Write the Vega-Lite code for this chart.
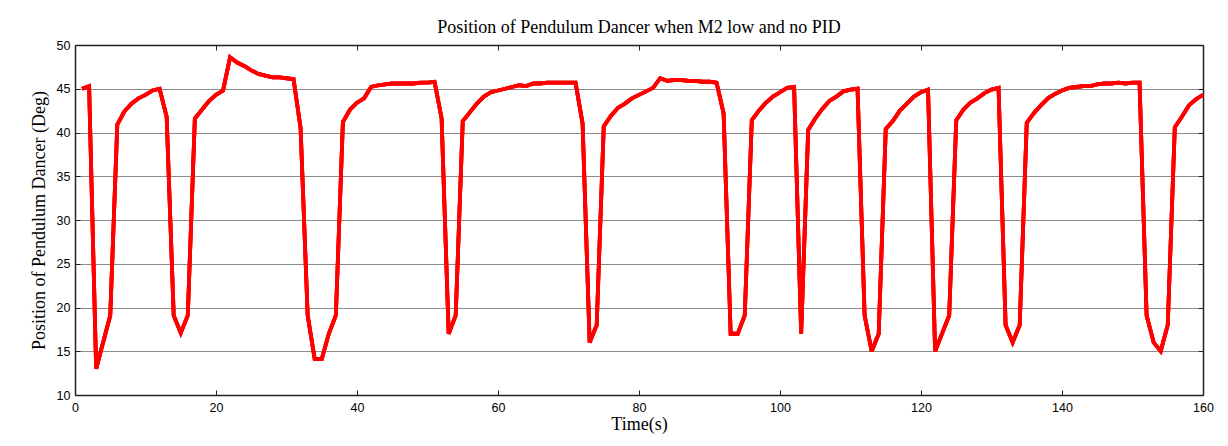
{
  "$schema": "https://vega.github.io/schema/vega-lite/v6.json",
  "width": 1128,
  "height": 350,
  "autosize": "none",
  "padding": {"left": 75, "top": 45, "right": 25, "bottom": 51},
  "background": "white",
  "title": {
    "text": "Position of Pendulum Dancer when M2 low and no PID",
    "font": "Liberation Serif",
    "fontSize": 18,
    "fontWeight": "normal",
    "color": "black",
    "anchor": "middle",
    "offset": 2
  },
  "data": {
    "values": [
      {"t": 1, "v": 45.0}, {"t": 2, "v": 45.3}, {"t": 3, "v": 13.0}, {"t": 5, "v": 19.1},
      {"t": 6, "v": 40.9}, {"t": 7, "v": 42.4}, {"t": 8, "v": 43.3}, {"t": 9, "v": 43.9},
      {"t": 10, "v": 44.3}, {"t": 11, "v": 44.8}, {"t": 12, "v": 45.0}, {"t": 13, "v": 41.8},
      {"t": 14, "v": 19.1}, {"t": 15, "v": 17.1}, {"t": 16, "v": 19.1}, {"t": 17, "v": 41.6},
      {"t": 18, "v": 42.6}, {"t": 19, "v": 43.6}, {"t": 20, "v": 44.3}, {"t": 21, "v": 44.8},
      {"t": 22, "v": 48.6}, {"t": 23, "v": 48.0}, {"t": 24, "v": 47.6}, {"t": 25, "v": 47.1},
      {"t": 26, "v": 46.7}, {"t": 27, "v": 46.5}, {"t": 28, "v": 46.3}, {"t": 29, "v": 46.3},
      {"t": 30, "v": 46.2}, {"t": 31, "v": 46.1}, {"t": 32, "v": 40.5}, {"t": 33, "v": 19.1},
      {"t": 34, "v": 14.1}, {"t": 35, "v": 14.1}, {"t": 36, "v": 17.0}, {"t": 37, "v": 19.1},
      {"t": 38, "v": 41.2}, {"t": 39, "v": 42.6}, {"t": 40, "v": 43.4}, {"t": 41, "v": 43.9},
      {"t": 42, "v": 45.2}, {"t": 43, "v": 45.4}, {"t": 44, "v": 45.5}, {"t": 45, "v": 45.6},
      {"t": 46, "v": 45.6}, {"t": 47, "v": 45.6}, {"t": 48, "v": 45.6}, {"t": 49, "v": 45.7},
      {"t": 50, "v": 45.7}, {"t": 51, "v": 45.8}, {"t": 52, "v": 41.6}, {"t": 53, "v": 17.0},
      {"t": 54, "v": 19.1}, {"t": 55, "v": 41.3}, {"t": 56, "v": 42.3}, {"t": 57, "v": 43.3},
      {"t": 58, "v": 44.1}, {"t": 59, "v": 44.6}, {"t": 60, "v": 44.8}, {"t": 61, "v": 45.0},
      {"t": 62, "v": 45.2}, {"t": 63, "v": 45.4}, {"t": 64, "v": 45.3}, {"t": 65, "v": 45.6},
      {"t": 66, "v": 45.6}, {"t": 67, "v": 45.7}, {"t": 68, "v": 45.7}, {"t": 69, "v": 45.7},
      {"t": 70, "v": 45.7}, {"t": 71, "v": 45.7}, {"t": 72, "v": 41.0}, {"t": 73, "v": 16.0},
      {"t": 74, "v": 18.0}, {"t": 75, "v": 40.7}, {"t": 76, "v": 41.9}, {"t": 77, "v": 42.8},
      {"t": 78, "v": 43.3}, {"t": 79, "v": 43.9}, {"t": 80, "v": 44.3}, {"t": 81, "v": 44.7},
      {"t": 82, "v": 45.1}, {"t": 83, "v": 46.2}, {"t": 84, "v": 45.9}, {"t": 85, "v": 46.0},
      {"t": 86, "v": 46.0}, {"t": 87, "v": 45.9}, {"t": 88, "v": 45.9}, {"t": 89, "v": 45.8},
      {"t": 90, "v": 45.8}, {"t": 91, "v": 45.7}, {"t": 92, "v": 42.2}, {"t": 93, "v": 17.0},
      {"t": 94, "v": 17.0}, {"t": 95, "v": 19.1}, {"t": 96, "v": 41.4}, {"t": 97, "v": 42.5},
      {"t": 98, "v": 43.4}, {"t": 99, "v": 44.1}, {"t": 100, "v": 44.6}, {"t": 101, "v": 45.1},
      {"t": 102, "v": 45.2}, {"t": 103, "v": 17.0}, {"t": 104, "v": 40.3}, {"t": 105, "v": 41.6},
      {"t": 106, "v": 42.7}, {"t": 107, "v": 43.6}, {"t": 108, "v": 44.1}, {"t": 109, "v": 44.7},
      {"t": 110, "v": 44.9}, {"t": 111, "v": 45.0}, {"t": 112, "v": 19.1}, {"t": 113, "v": 15.0},
      {"t": 114, "v": 17.0}, {"t": 115, "v": 40.4}, {"t": 116, "v": 41.3}, {"t": 117, "v": 42.5},
      {"t": 118, "v": 43.3}, {"t": 119, "v": 44.1}, {"t": 120, "v": 44.6}, {"t": 121, "v": 44.9},
      {"t": 122, "v": 15.0}, {"t": 124, "v": 19.1}, {"t": 125, "v": 41.4}, {"t": 126, "v": 42.6},
      {"t": 127, "v": 43.4}, {"t": 128, "v": 43.9}, {"t": 129, "v": 44.5}, {"t": 130, "v": 44.9},
      {"t": 131, "v": 45.1}, {"t": 132, "v": 18.0}, {"t": 133, "v": 16.0}, {"t": 134, "v": 18.0},
      {"t": 135, "v": 41.1}, {"t": 136, "v": 42.2}, {"t": 137, "v": 43.1}, {"t": 138, "v": 43.9},
      {"t": 139, "v": 44.4}, {"t": 140, "v": 44.8}, {"t": 141, "v": 45.1}, {"t": 142, "v": 45.2},
      {"t": 143, "v": 45.3}, {"t": 144, "v": 45.3}, {"t": 145, "v": 45.5}, {"t": 146, "v": 45.6},
      {"t": 147, "v": 45.6}, {"t": 148, "v": 45.7}, {"t": 149, "v": 45.6}, {"t": 150, "v": 45.7},
      {"t": 151, "v": 45.7}, {"t": 152, "v": 19.1}, {"t": 153, "v": 16.0}, {"t": 154, "v": 15.0},
      {"t": 155, "v": 18.0}, {"t": 156, "v": 40.6}, {"t": 157, "v": 41.8}, {"t": 158, "v": 43.1},
      {"t": 159, "v": 43.8}, {"t": 160, "v": 44.3}
    ]
  },
  "layer": [
    {
      "mark": {"type": "line", "color": "#ff0000", "strokeWidth": 3.8, "strokeJoin": "miter", "strokeMiterLimit": 3},
      "encoding": {
        "x": {
          "field": "t", "type": "quantitative",
          "scale": {"domain": [0, 160], "nice": false, "zero": false},
          "axis": {
            "orient": "bottom", "title": "Time(s)", "values": [0, 20, 40, 60, 80, 100, 120, 140, 160],
            "grid": false, "ticks": false, "labelPadding": 6, "titlePadding": 2, "labelFlush": false
          }
        },
        "y": {
          "field": "v", "type": "quantitative",
          "scale": {"domain": [10, 50], "nice": false, "zero": false},
          "axis": {
            "orient": "left", "title": "Position of Pendulum Dancer (Deg)", "values": [10, 15, 20, 25, 30, 35, 40, 45, 50],
            "grid": true, "ticks": false, "labelPadding": 5, "titlePadding": 8, "labelFlush": false
          }
        }
      }
    },
    {
      "mark": {"type": "line", "color": "#ff0000", "strokeWidth": 3.8, "strokeJoin": "miter", "strokeMiterLimit": 3},
      "encoding": {
        "x": {
          "field": "t", "type": "quantitative",
          "scale": {"domain": [0, 160], "nice": false, "zero": false},
          "axis": {
            "orient": "top", "title": null, "values": [0, 20, 40, 60, 80, 100, 120, 140, 160],
            "grid": false, "labels": false, "ticks": true, "tickSize": -5, "domain": true
          }
        },
        "y": {
          "field": "v", "type": "quantitative",
          "scale": {"domain": [10, 50], "nice": false, "zero": false},
          "axis": {
            "orient": "right", "title": null, "values": [10, 15, 20, 25, 30, 35, 40, 45, 50],
            "grid": false, "labels": false, "ticks": true, "tickSize": -5, "domain": true
          }
        }
      }
    },
    {
      "mark": {"type": "line", "color": "#ff0000", "strokeWidth": 3.8, "strokeJoin": "miter", "strokeMiterLimit": 3},
      "encoding": {
        "x": {
          "field": "t", "type": "quantitative",
          "scale": {"domain": [0, 160], "nice": false, "zero": false},
          "axis": {
            "orient": "bottom", "title": null, "values": [0, 20, 40, 60, 80, 100, 120, 140, 160],
            "grid": false, "labels": false, "ticks": true, "tickSize": -5, "domain": false
          }
        },
        "y": {
          "field": "v", "type": "quantitative",
          "scale": {"domain": [10, 50], "nice": false, "zero": false},
          "axis": {
            "orient": "left", "title": null, "values": [10, 15, 20, 25, 30, 35, 40, 45, 50],
            "grid": false, "labels": false, "ticks": true, "tickSize": -5, "domain": false
          }
        }
      }
    }
  ],
  "resolve": {"axis": {"x": "independent", "y": "independent"}},
  "config": {
    "view": {"stroke": "#222222", "strokeWidth": 1},
    "axis": {
      "domainColor": "#222222",
      "domainWidth": 1.5,
      "tickColor": "#222222",
      "tickWidth": 1,
      "gridColor": "#8c8c8c",
      "gridWidth": 1,
      "labelFont": "Liberation Sans",
      "labelFontSize": 12.5,
      "labelColor": "black",
      "titleFont": "Liberation Serif",
      "titleFontSize": 18,
      "titleFontWeight": "normal",
      "titleColor": "black"
    }
  }
}
